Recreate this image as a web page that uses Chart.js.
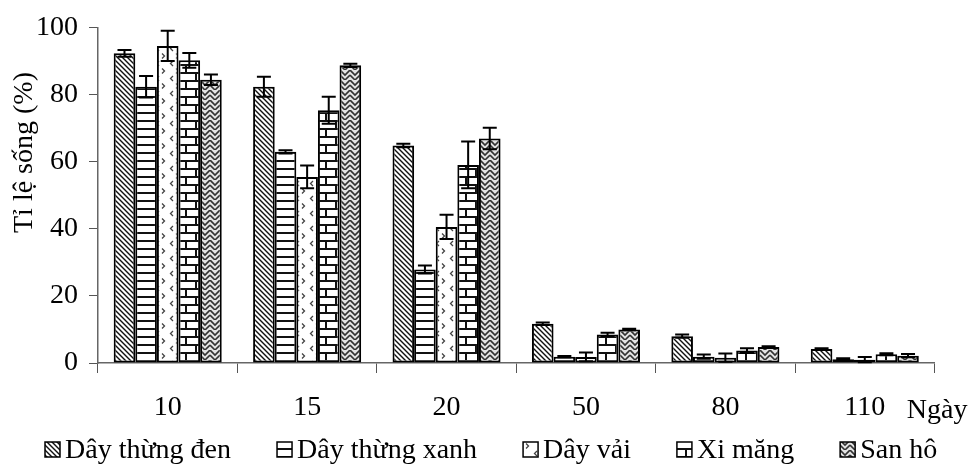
<!DOCTYPE html>
<html>
<head>
<meta charset="utf-8">
<script src="https://cdn.jsdelivr.net/npm/chart.js@4/dist/chart.umd.min.js"></script>
<style>
html,body{margin:0;padding:0;background:#fff;}
#wrap{width:975px;height:465px;position:relative;}
</style>
</head>
<body>
<div id="wrap"><canvas id="c" width="975" height="465"></canvas></div>
<script>
// ---- data ----
const categories = ['10', '15', '20', '50', '80', '110'];
const seriesNames = ['Dây thừng đen', 'Dây thừng xanh', 'Dây vải', 'Xi măng', 'San hô'];
const dayThungDen    = [92.4, 82.4, 64.9, 11.7, 8.0, 4.2];
const dayThungDenErr = [1.0, 3.0, 0.5, 0.4, 0.5, 0.2];
const dayThungXanh    = [82.4, 63.0, 27.9, 1.9, 1.9, 1.1];
const dayThungXanhErr = [3.2, 0.5, 1.2, 0.2, 0.6, 0.3];
const dayVai    = [94.6, 55.5, 40.6, 1.8, 1.6, 1.0];
const dayVaiErr = [4.5, 3.4, 3.6, 1.3, 1.2, 0.8];
const xiMang    = [90.3, 75.4, 59.1, 8.5, 3.7, 2.6];
const xiMangErr = [2.2, 4.0, 7.0, 0.5, 0.7, 0.3];
const sanHo    = [84.5, 88.8, 67.0, 10.0, 4.8, 2.2];
const sanHoErr = [1.6, 0.5, 3.2, 0.2, 0.2, 0.5];
const yTicks = [0, 20, 40, 60, 80, 100];
const yTitle = 'Tỉ lệ sống (%)';
const xUnit = 'Ngày';

// ---- patterns ----
const mainCtx = document.getElementById('c').getContext('2d');
function makePattern(w, h, draw) {
  const c = document.createElement('canvas');
  c.width = w; c.height = h;
  const g = c.getContext('2d');
  g.fillStyle = '#fff';
  g.fillRect(0, 0, w, h);
  draw(g, w, h);
  return mainCtx.createPattern(c, 'repeat');
}
const patDiag = makePattern(5, 5, (g, w, h) => {
  g.strokeStyle = '#111'; g.lineWidth = 1.4;
  g.beginPath();
  g.moveTo(-1, -1); g.lineTo(w + 1, h + 1);
  g.moveTo(-1, h - 1); g.lineTo(1, h + 1);
  g.moveTo(w - 1, -1); g.lineTo(w + 1, 1);
  g.stroke();
});
const patHoriz = makePattern(8, 8, (g, w, h) => {
  g.fillStyle = '#111';
  g.fillRect(0, 0, w, 2);
});
const patDots = makePattern(14, 15, (g, w, h) => {
  g.strokeStyle = '#444'; g.lineWidth = 1.3;
  g.beginPath();
  g.moveTo(5, 1); g.lineTo(2.5, 3.5); g.lineTo(5, 6);
  g.moveTo(8, 8.5); g.lineTo(10.5, 11); g.lineTo(8, 13.5);
  g.stroke();
});
const patBrick = makePattern(20, 16, (g, w, h) => {
  g.fillStyle = '#111';
  g.fillRect(0, 0, w, 2);
  g.fillRect(0, 8, w, 2);
  g.fillRect(5, 0, 2, 8);
  g.fillRect(15, 8, 2, 8);
});
const patWeave = makePattern(10, 10, (g, w, h) => {
  g.fillStyle = '#e4e4e4';
  g.fillRect(0, 0, w, h);
  g.strokeStyle = '#333'; g.lineWidth = 1.6;
  g.beginPath();
  g.moveTo(0, 0); g.lineTo(5, 5); g.lineTo(10, 0);
  g.moveTo(0, 5); g.lineTo(5, 10); g.lineTo(10, 5);
  g.stroke();
});

const seriesValues = [dayThungDen, dayThungXanh, dayVai, xiMang, sanHo];
const seriesErrors = [dayThungDenErr, dayThungXanhErr, dayVaiErr, xiMangErr, sanHoErr];
const seriesFills = [patDiag, patHoriz, patDots, patBrick, patWeave];

const datasets = seriesNames.map((name, i) => ({
  label: name,
  data: seriesValues[i],
  errors: seriesErrors[i],
  backgroundColor: seriesFills[i],
  borderColor: '#000',
  borderWidth: 2,
  borderSkipped: false,
  categoryPercentage: 0.775,
  barPercentage: 1.0
}));

const FONT = '"Liberation Serif", "Times New Roman", serif';
const FSIZE = 28;

const errorBarPlugin = {
  id: 'errorBars',
  afterDatasetsDraw(chart) {
    const ctx = chart.ctx;
    const y = chart.scales.y;
    ctx.save();
    ctx.strokeStyle = '#000';
    ctx.lineWidth = 2;
    chart.data.datasets.forEach((ds, di) => {
      const meta = chart.getDatasetMeta(di);
      meta.data.forEach((bar, i) => {
        const v = ds.data[i], e = ds.errors[i];
        const top = y.getPixelForValue(v + e);
        const bot = y.getPixelForValue(Math.max(0, v - e));
        const cap = 7;
        ctx.beginPath();
        ctx.moveTo(bar.x, top); ctx.lineTo(bar.x, bot);
        ctx.moveTo(bar.x - cap, top); ctx.lineTo(bar.x + cap, top);
        ctx.moveTo(bar.x - cap, bot); ctx.lineTo(bar.x + cap, bot);
        ctx.stroke();
      });
    });
    ctx.restore();
  }
};

const textPlugin = {
  id: 'extraText',
  afterDraw(chart) {
    const ctx = chart.ctx;
    const x = chart.scales.x;
    // y title
    ctx.save();
    ctx.fillStyle = '#000';
    ctx.font = FSIZE + 'px ' + FONT;
    ctx.translate(32, 233);
    ctx.rotate(-Math.PI / 2);
    ctx.textAlign = 'left';
    ctx.textBaseline = 'alphabetic';
    ctx.fillText(yTitle, 0, 0);
    ctx.restore();
    // x unit
    ctx.save();
    ctx.fillStyle = '#000';
    ctx.font = FSIZE + 'px ' + FONT;
    ctx.textAlign = 'left';
    ctx.textBaseline = 'alphabetic';
    const lx = x.getPixelForValue(categories.length - 1) + 42;
    ctx.fillText(xUnit, lx, 418);
    ctx.restore();
    // legend
    ctx.save();
    ctx.font = FSIZE + 'px ' + FONT;
    ctx.textAlign = 'left';
    ctx.textBaseline = 'alphabetic';
    let lxp = 45;
    chart.data.datasets.forEach((ds) => {
      ctx.fillStyle = ds.backgroundColor;
      ctx.fillRect(lxp, 442, 15, 15);
      ctx.strokeStyle = '#000';
      ctx.lineWidth = 1.5;
      ctx.strokeRect(lxp, 442, 15, 15);
      ctx.fillStyle = '#000';
      ctx.fillText(ds.label, lxp + 20, 458);
      lxp += 20 + ctx.measureText(ds.label).width + 46;
    });
    ctx.restore();
  }
};

new Chart(document.getElementById('c'), {
  type: 'bar',
  data: { labels: categories, datasets },
  plugins: [errorBarPlugin, textPlugin],
  options: {
    responsive: false,
    animation: false,
    devicePixelRatio: 1,
    layout: { padding: { top: 20, right: 40.5, left: 0, bottom: 42 } },
    plugins: {
      legend: { display: false },
      tooltip: { enabled: false }
    },
    scales: {
      x: {
        offset: true,
        grid: { display: true, offset: true, drawOnChartArea: false, drawTicks: true, tickLength: 10, color: '#555', lineWidth: 1 },
        border: { display: true, color: '#666', width: 1.5 },
        ticks: { font: { family: FONT, size: FSIZE }, color: '#000', padding: 18, maxRotation: 0 },
        afterFit(scale) { scale.height = 60; }
      },
      y: {
        min: 0, max: 100,
        afterBuildTicks(scale) { scale.ticks = yTicks.map(v => ({ value: v })); },
        grid: { display: true, drawOnChartArea: false, drawTicks: true, tickLength: 9, color: '#555', lineWidth: 1 },
        border: { display: true, color: '#666', width: 1.5 },
        ticks: { font: { family: FONT, size: FSIZE }, color: '#000', padding: 11 },
        afterFit(scale) { scale.width = 98; }
      }
    }
  }
});
</script>
</body>
</html>
